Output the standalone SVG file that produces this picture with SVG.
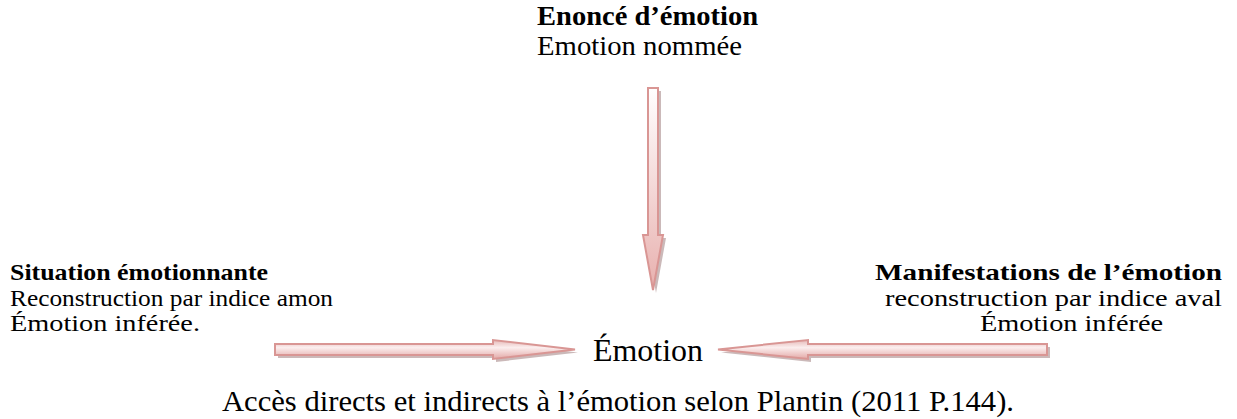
<svg xmlns="http://www.w3.org/2000/svg" width="1237" height="419" viewBox="0 0 1237 419">
<style>
text{font-family:"Liberation Serif","Times New Roman",serif;fill:#000}
.b{font-weight:bold}
.top{font-size:27px}
.side{font-size:24px}
.arrow{stroke:#d99694;stroke-width:2;stroke-linejoin:miter}
.shadow{fill:#a08080;opacity:0.55}
</style>
<defs>
<linearGradient id="gh" x1="0" y1="0" x2="0" y2="1">
<stop offset="0" stop-color="#e6b9b8"/>
<stop offset="0.4" stop-color="#fbeeee"/>
<stop offset="1" stop-color="#e3a8a6"/>
</linearGradient>
<linearGradient id="gv" x1="0" y1="0" x2="0" y2="1">
<stop offset="0" stop-color="#ffffff"/>
<stop offset="1" stop-color="#e8b0ae"/>
</linearGradient>
</defs>
<g id="enonce">
<text class="top b" x="537" y="25" textLength="221" lengthAdjust="spacingAndGlyphs">Enoncé d’émotion</text>
<text class="top" x="537" y="55" textLength="205" lengthAdjust="spacingAndGlyphs">Emotion nommée</text>
</g>
<g id="situation">
<text class="side b" x="10" y="280" textLength="258" lengthAdjust="spacingAndGlyphs">Situation émotionnante</text>
<text class="side" x="10" y="306" textLength="323" lengthAdjust="spacingAndGlyphs">Reconstruction par indice amon</text>
<text class="side" x="10" y="331" textLength="190" lengthAdjust="spacingAndGlyphs">Émotion inférée.</text>
</g>
<g id="manifestations">
<text class="side b" x="875" y="280" textLength="347" lengthAdjust="spacingAndGlyphs">Manifestations de l’émotion</text>
<text class="side" x="885" y="306" textLength="337" lengthAdjust="spacingAndGlyphs">reconstruction par indice aval</text>
<text class="side" x="980" y="331" textLength="183" lengthAdjust="spacingAndGlyphs">Émotion inférée</text>
</g>
<g id="emotion">
<text x="593" y="361" style="font-size:31px" textLength="110" lengthAdjust="spacingAndGlyphs">Émotion</text>
</g>
<g id="caption">
<text x="222" y="411" style="font-size:30px" textLength="792" lengthAdjust="spacingAndGlyphs">Accès directs et indirects à l’émotion selon Plantin (2011 P.144).</text>
</g>
<g id="connectors">
<polygon class="shadow" points="651,91 661,91 661,238 666,238 656,293 646,238 651,238"/>
<polygon class="arrow" fill="url(#gv)" points="648,88 658,88 658,235 663,235 653,290 643,235 648,235"/>
<polygon class="shadow" points="278,347 496,347 496,343 578,352.5 496,362 496,358 278,358"/>
<polygon class="arrow" fill="url(#gh)" points="275,344 493,344 493,340 575,349.5 493,359 493,355 275,355"/>
<polygon class="shadow" points="1050,347 811,347 811,343 721,352.5 811,362 811,358 1050,358"/>
<polygon class="arrow" fill="url(#gh)" points="1047,344 808,344 808,340 718,349.5 808,359 808,355 1047,355"/>
</g>
</svg>
